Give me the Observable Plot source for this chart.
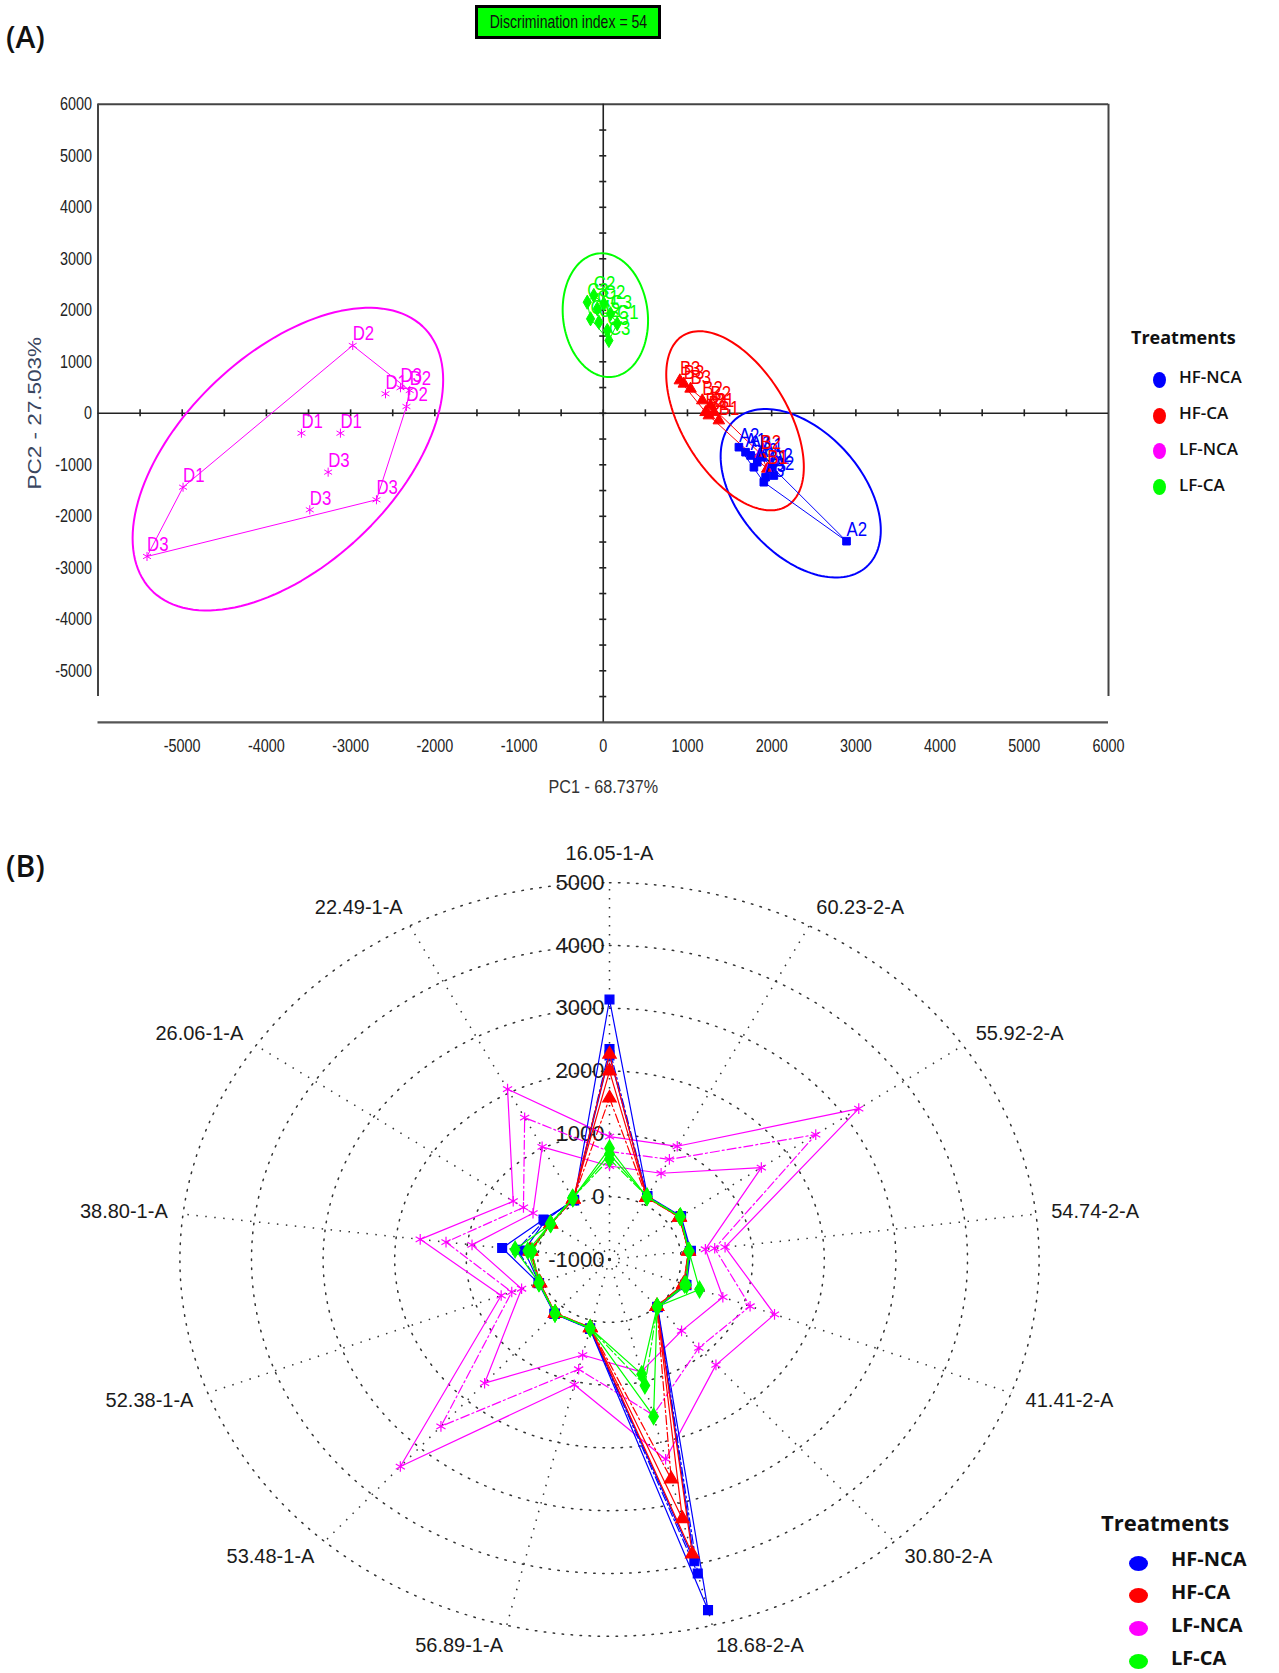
<!DOCTYPE html>
<html><head><meta charset="utf-8">
<script src="https://cdn.jsdelivr.net/npm/d3@7"></script>
<script src="https://cdn.jsdelivr.net/npm/@observablehq/plot@0.6"></script>
<style>
body{margin:0;background:#fff;}
#root{position:relative;width:1279px;height:1673px;overflow:hidden;background:#fff;}
.abs{position:absolute;}
.panel{font-family:"Open Sans",sans-serif;font-weight:600;font-size:30px;color:#111;line-height:1;}
#disc{left:475px;top:5px;width:180px;height:28px;border:3px solid #000;background:#00ff00;display:flex;justify-content:center;align-items:center;
  font-family:"Liberation Sans",Arial,sans-serif;font-size:19px;color:#111;white-space:nowrap;}
#disc span{display:inline-block;flex:none;transform:scaleX(0.74);transform-origin:center;}
.legT{font-family:"Open Sans",sans-serif;font-weight:700;color:#111;white-space:nowrap;line-height:1;}
.legI{font-family:"Open Sans",sans-serif;font-weight:700;color:#111;white-space:nowrap;line-height:1;}
.legD{position:absolute;border-radius:50%;}
</style></head>
<body><div id="root">
<div class="abs" id="pa" style="left:0;top:0"></div>
<div class="abs" id="pb" style="left:0;top:830px"></div>
<div class="abs panel" style="left:6px;top:22px;">(A)</div>
<div class="abs panel" style="left:6px;top:851px;">(B)</div>
<div class="abs" id="disc"><span>Discrimination index = 54</span></div>
<div class="abs" id="legA" style="left:0;top:0"></div>
<div class="abs" id="legB" style="left:0;top:0"></div>
</div>
<script>
// ---------- shared ----------
const groups = ["HF-NCA", "HF-CA", "LF-NCA", "LF-CA"];
const colors = ["#0000ff", "#ff0000", "#ff00ff", "#00ff00"];
const symbols = ["square", "triangle", "asterisk", "diamond"];
const legendTitle = "Treatments";

// ---------- panel A: PCA scores ----------
const pcaGroup = [
  "HF-NCA","HF-NCA","HF-NCA","HF-NCA","HF-NCA","HF-NCA","HF-NCA","HF-NCA","HF-NCA","HF-NCA","HF-NCA","HF-NCA",
  "HF-CA","HF-CA","HF-CA","HF-CA","HF-CA","HF-CA","HF-CA","HF-CA","HF-CA","HF-CA","HF-CA",
  "LF-NCA","LF-NCA","LF-NCA","LF-NCA","LF-NCA","LF-NCA","LF-NCA","LF-NCA","LF-NCA","LF-NCA","LF-NCA","LF-NCA",
  "LF-CA","LF-CA","LF-CA","LF-CA","LF-CA","LF-CA","LF-CA","LF-CA","LF-CA","LF-CA"
];
const pcaLabel = [
  "A2","A2","A1","A3","A2","A1","A3","A1","A2","A3","A2","A3",
  "B3","B3","B3","B2","B2","B2","B1","B1","B1","B2","B1",
  "D2","D1","D3","D2","D2","D1","D1","D3","D3","D3","D1","D3",
  "C2","C3","C2","C1","C3","C1","C2","C1","C3","C3"
];
const pc1 = [
  2889,1611,1690,1750,1829,1888,1789,1967,2007,1928,2026,1907,
  910,957,1037,1176,1274,1215,1314,1254,1373,1868,1948,
  -2975,-2586,-2408,-2298,-2337,-3584,-3121,-3267,-2693,-3485,-4990,-5418,
  -112,-190,7,-71,87,-151,-52,166,48,67
];
const pc2 = [
  -2483,-658,-755,-819,-949,-852,-1047,-1078,-1047,-1241,-1208,-1338,
  637,573,476,249,151,21,21,-43,-140,-787,-1078,
  1317,379,497,443,132,-386,-386,-1143,-1679,-1874,-1435,-2780,
  2287,2157,2126,2029,1932,1835,1769,1738,1608,1414
];
// confidence ellipses: centre and conjugate half-axes (data units)
const ellCx = [2345, 1565, -3745, 25];
const ellCy = [-1553, -145, -890, 1905];
const ellUx = [951, 817, 1844, 507];
const ellUy = [-718, -899, 1536, -104];
const ellVy = [-1470, -1489, -2505, -1197];

const xTicks = d3.range(-5000, 6001, 1000);
const yTicks = d3.range(-5000, 6001, 1000);
const minorX = d3.range(-5500, 6000, 500);
const minorY = d3.range(-5500, 6000, 500);
const pcaXLabel = "PC1 - 68.737%";
const pcaYLabel = "PC2 - 27.503%";

const colorOf = Object.fromEntries(groups.map((g, i) => [g, colors[i]]));
const symbolOf = Object.fromEntries(groups.map((g, i) => [g, symbols[i]]));

const pca = pc1.map((x, i) => ({x, y: pc2[i], g: pcaGroup[i], label: pcaLabel[i]}));
const ellipse = [];
groups.forEach((g, gi) => {
  for (let s = 0; s <= 144; s++) {
    const t = s / 144 * 2 * Math.PI;
    ellipse.push({g, x: ellCx[gi] + ellUx[gi] * Math.cos(t), y: ellCy[gi] + ellUy[gi] * Math.cos(t) + ellVy[gi] * Math.sin(t)});
  }
});

const HA = 800, mL = 97.5, mR = 171, mT = 103.8, mB = 78.2;
const unitsPerPxY = 12000 / (HA - mT - mB);
const unitsPerPxX = 12000 / (1279 - mL - mR);
const sans = "'Liberation Sans',Arial,sans-serif";

const plotA = Plot.plot({
  width: 1279, height: HA,
  marginLeft: mL, marginRight: mR, marginTop: mT, marginBottom: mB,
  x: {domain: [-6000, 6000]},
  y: {domain: [-6000, 6000]},
  style: {fontFamily: sans, fontSize: "18px", color: "#222", background: "transparent"},
  marks: [
    Plot.ruleY([6000], {stroke: "#444", strokeWidth: 2}),
    Plot.ruleY([-6000], {stroke: "#555", strokeWidth: 2.2}),
    Plot.ruleX([-6000, 6000], {y1: -5500, y2: 6000, stroke: "#444", strokeWidth: 2}),
    Plot.ruleX([0], {stroke: "#222", strokeWidth: 1.6}),
    Plot.ruleY([0], {stroke: "#222", strokeWidth: 1.6}),
    Plot.ruleX(minorX, {y1: -3.5 * unitsPerPxY, y2: 3.5 * unitsPerPxY, stroke: "#222", strokeWidth: 1.6}),
    Plot.ruleY(minorY, {x1: -3.5 * unitsPerPxX, x2: 3.5 * unitsPerPxX, stroke: "#222", strokeWidth: 1.6}),
    Plot.axisX({ticks: xTicks, tickSize: 0, tickPadding: 17, tickFormat: d => String(d), label: null}),
    Plot.axisY({ticks: yTicks, tickSize: 0, tickPadding: 6, tickFormat: d => String(d), label: null}),
    Plot.text([pcaXLabel], {frameAnchor: "bottom", textAnchor: "middle", dy: 71, fontSize: 19, fill: "#333"}),
    Plot.text([pcaYLabel], {frameAnchor: "left", textAnchor: "middle", dx: -63, rotate: -90, fontSize: 18, fill: "#3a4660"}),
    Plot.line(ellipse, {x: "x", y: "y", z: "g", stroke: d => colorOf[d.g], strokeWidth: 2}),
    Plot.hull(pca, {x: "x", y: "y", z: "g", stroke: d => colorOf[d.g], strokeWidth: 1}),
    Plot.dot(pca, {x: "x", y: "y", symbol: d => symbolOf[d.g], fill: d => colorOf[d.g], stroke: d => colorOf[d.g], r: 4.3, strokeWidth: 1}),
    Plot.text(pca, {x: "x", y: "y", text: "label", fill: d => colorOf[d.g], textAnchor: "start", dx: 0, dy: -12, fontSize: 21})
  ]
});
// narrow (condensed) look of the original panel: squeeze texts horizontally about their anchors
function squeeze(t, k) {
  const tr = t.getAttribute("transform") || "";
  t.setAttribute("transform", `${tr} scale(${k},1)`);
}
plotA.querySelectorAll("text").forEach(t => {
  if (t.textContent === pcaYLabel) squeeze(t, 1.25);
  else if (t.textContent === pcaXLabel) squeeze(t, 0.85);
  else squeeze(t, 0.8);
});
document.getElementById("pa").appendChild(plotA);

// ---------- panel B: radar ----------
const radarAxes = ["16.05-1-A", "60.23-2-A", "55.92-2-A", "54.74-2-A", "41.41-2-A", "30.80-2-A", "18.68-2-A",
  "56.89-1-A", "53.48-1-A", "52.38-1-A", "38.80-1-A", "26.06-1-A", "22.49-1-A"];
const ringValues = [-1000, 0, 1000, 2000, 3000, 4000, 5000];
const radarMin = -1000;

const lfNca1 = [957, 1036, 3230, 626, 1465, 1242, 2275, 1054, 3405, 618, 1663, 634, 2064];
const lfNca2 = [720, 800, 2500, 480, 1100, 880, 1550, 800, 2550, 460, 1300, 460, 1550];
const lfNca3 = [489, 551, 1577, 349, 693, 518, 842, 567, 1631, 313, 934, 298, 1025];
const hfNca1 = [3140, 140, 215, 145, 150, 15, 4750, 140, 160, 60, 510, 120, 60];
const hfNca2 = [2350, 130, 205, 135, 135, 10, 4150, 135, 155, 55, 300, 100, 70];
const hfNca3 = [2250, 128, 200, 130, 130, 8, 3950, 130, 152, 52, 200, 90, 75];
const hfCa1 = [2270, 120, 190, 115, 110, 0, 3830, 120, 145, 45, 120, 0, 90];
const hfCa2 = [1570, 115, 185, 110, 105, -5, 2600, 115, 140, 40, 100, -5, 85];
const hfCa3 = [2000, 118, 188, 112, 108, -2, 3250, 118, 142, 42, 110, -3, 88];
const lfCa1 = [770, 124, 199, 117, 345, 3, 1573, 130, 148, 51, 328, -3, 100];
const lfCa2 = [600, 130, 205, 120, 121, 8, 1066, 125, 150, 55, 90, 5, 110];
const lfCa3 = [680, 128, 200, 118, 150, 5, 880, 128, 146, 53, 150, 2, 105];

const radarSeries = [
  {g: "LF-NCA", rep: 1, v: lfNca1}, {g: "LF-NCA", rep: 2, v: lfNca2}, {g: "LF-NCA", rep: 3, v: lfNca3},
  {g: "HF-NCA", rep: 1, v: hfNca1}, {g: "HF-NCA", rep: 2, v: hfNca2}, {g: "HF-NCA", rep: 3, v: hfNca3},
  {g: "HF-CA", rep: 1, v: hfCa1}, {g: "HF-CA", rep: 2, v: hfCa2}, {g: "HF-CA", rep: 3, v: hfCa3},
  {g: "LF-CA", rep: 1, v: lfCa1}, {g: "LF-CA", rep: 2, v: lfCa2}, {g: "LF-CA", rep: 3, v: lfCa3}
];
const repDash = {1: null, 2: "9,3,2,3", 3: null};

const nA = radarAxes.length;
const ang = k => k * 2 * Math.PI / nA;
const rad = v => v - radarMin;

const pxUx = 0.0716, pxUy = 0.0628;   // pixels per data unit (the original is stretched horizontally)
const cxPx = 609, cyPx = 429, WB = 1279, HB = 843;
const outerR = rad(5000);
const labRx = 6215, labRy = 6330;

const dotted = {stroke: "#333", strokeWidth: 1.5, strokeDasharray: "1.5,7.5"};
const labelFont = "'Liberation Sans',Arial,sans-serif";

const rings = [];
ringValues.filter(v => v > radarMin).forEach(v => {
  for (let s = 0; s <= 360; s++) {
    const t = s / 360 * 2 * Math.PI;
    rings.push({ring: v, x: rad(v) * Math.sin(t), y: rad(v) * Math.cos(t)});
  }
});

const radarMarks = [
  Plot.line(rings, {x: "x", y: "y", z: "ring", ...dotted}),
  Plot.link(radarAxes, {x1: 0, y1: 0, x2: (d, i) => outerR * Math.sin(ang(i)), y2: (d, i) => outerR * Math.cos(ang(i)), ...dotted}),
  Plot.text(radarAxes.filter((d, i) => i === 0), {x: 0, y: labRy, text: d => d, textAnchor: "middle", dy: -8, fontSize: 20, fill: "#1a1a1a", fontFamily: labelFont}),
  Plot.text(radarAxes.map((d, i) => ({d, i})).filter(o => o.i > 0 && o.i <= 6), {x: o => labRx * Math.sin(ang(o.i)), y: o => labRy * Math.cos(ang(o.i)), text: "d", textAnchor: "start", fontSize: 20, fill: "#1a1a1a", fontFamily: labelFont}),
  Plot.text(radarAxes.map((d, i) => ({d, i})).filter(o => o.i > 6), {x: o => labRx * Math.sin(ang(o.i)), y: o => labRy * Math.cos(ang(o.i)), text: "d", textAnchor: "end", fontSize: 20, fill: "#1a1a1a", fontFamily: labelFont}),
  Plot.text(ringValues, {x: 0, y: v => rad(v), text: v => String(v), textAnchor: "end", dx: -5, fontSize: 22, fill: "#1a1a1a", fontFamily: labelFont})
];

radarSeries.forEach(s => {
  const rows = s.v.map((v, k) => ({x: rad(v) * Math.sin(ang(k)), y: rad(v) * Math.cos(ang(k))}));
  const col = colorOf[s.g];
  radarMarks.push(Plot.line(rows, {x: "x", y: "y", curve: "linear-closed", stroke: col, strokeWidth: 1.2, strokeDasharray: repDash[s.rep] || undefined}));
  radarMarks.push(Plot.dot(rows, {x: "x", y: "y", symbol: symbolOf[s.g], fill: col, stroke: col, r: 5, strokeWidth: 1.2}));
});

const plotB = Plot.plot({
  width: WB, height: HB, margin: 0,
  x: {domain: [-cxPx / pxUx, (WB - cxPx) / pxUx], range: [0, WB], axis: null},
  y: {domain: [-(HB - cyPx) / pxUy, cyPx / pxUy], range: [HB, 0], axis: null},
  style: {background: "transparent"},
  marks: radarMarks
});
document.getElementById("pb").appendChild(plotB);

// ---------- legends ----------
function legend(el, o) {
  let h = `<div class="abs legT" style="left:${o.tx}px;top:${o.ty}px;font-size:${o.tf}px">${legendTitle}</div>`;
  groups.forEach((g, i) => {
    const cy = o.y0 + i * o.dy;
    h += `<div class="legD" style="left:${o.dx - o.dw / 2}px;top:${cy - o.dh / 2}px;width:${o.dw}px;height:${o.dh}px;background:${colors[i]}"></div>`;
    h += `<div class="abs legI" style="left:${o.lx}px;top:${cy - o.lf * 0.68}px;font-size:${o.lf}px;font-weight:${o.lw}">${g}</div>`;
  });
  el.innerHTML = h;
}
legend(document.getElementById("legA"), {tx: 1131, ty: 328, tf: 18, y0: 380, dy: 35.7, dx: 1159, dw: 13, dh: 16, lx: 1179, lf: 17, lw: 600});
legend(document.getElementById("legB"), {tx: 1101, ty: 1511, tf: 22, y0: 1563, dy: 32.7, dx: 1138, dw: 19, dh: 15, lx: 1171, lf: 20, lw: 700});
</script>
</body></html>
